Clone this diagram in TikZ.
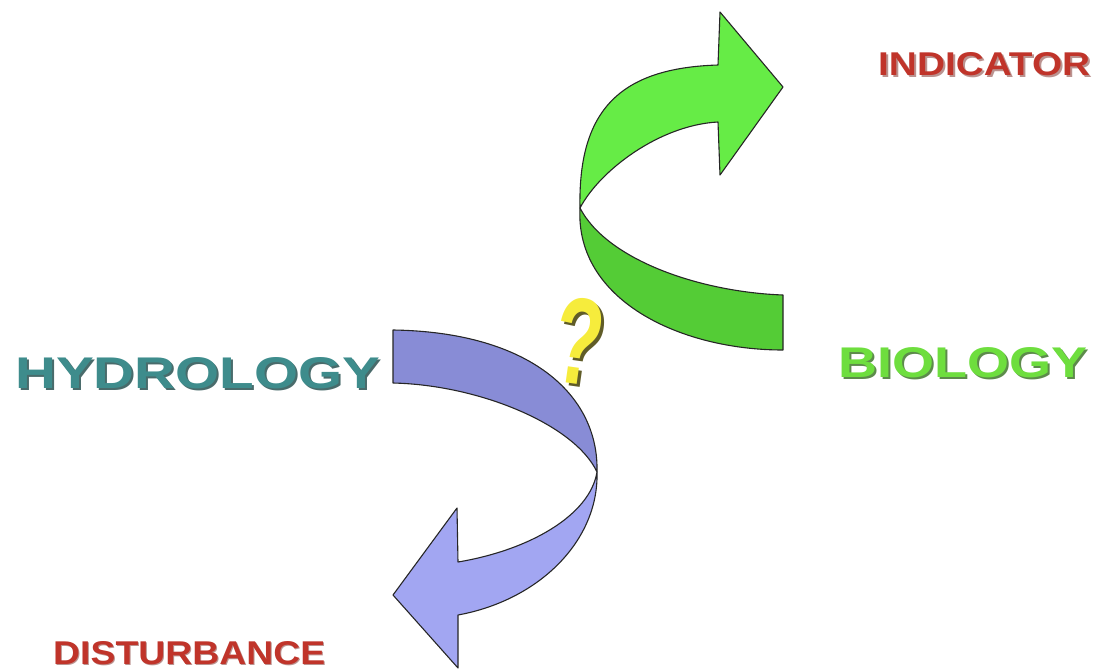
\documentclass[tikz,border=0pt]{standalone}
\usepackage{fontspec}
\setmainfont{Liberation Sans}
\definecolor{gup}{RGB}{102,236,70}
\definecolor{gdown}{RGB}{84,204,54}
\definecolor{bback}{RGB}{136,140,214}
\definecolor{bfront}{RGB}{162,166,242}
\definecolor{teal}{RGB}{62,140,140}
\definecolor{tealdark}{RGB}{28,70,70}
\definecolor{leaf}{RGB}{110,222,62}
\definecolor{leafdark}{RGB}{52,110,30}
\definecolor{brick}{RGB}{192,52,42}
\definecolor{brickdark}{RGB}{120,40,34}
\definecolor{qyellow}{RGB}{246,236,60}
\definecolor{qshadow}{RGB}{96,92,40}
\begin{document}
\begin{tikzpicture}[x=1pt,y=-1pt,
  band/.style={draw=black!85,line width=1.1pt,line join=round},
  word/.style={inner sep=0pt,anchor=base west},
  shade/.style={inner sep=0pt,anchor=base west,opacity=0.8}]
\useasboundingbox (0,0) rectangle (1098,670);

% green arrow: back face (lower) and front face with head (upper)
\path[band,fill=gdown] (580,208) .. controls (607,260) and (700,292) .. (783,295)
  -- (783,350) .. controls (680,350) and (575,300) .. (580,208) -- cycle;
\path[band,fill=gup] (718,65) -- (720,12) -- (783,87) -- (720,175) -- (718,122)
  .. controls (660,125) and (600,170) .. (580,208)
  .. controls (578,110) and (620,68) .. (718,65) -- cycle;

% blue arrow: back face (upper) and front face with head (lower)
\path[band,fill=bback] (393,330) -- (393,383) .. controls (480,385) and (575,425) .. (597,472)
  .. controls (599,395) and (530,332) .. (393,330) -- cycle;
\path[band,fill=bfront] (597,472) .. controls (599,540) and (540,600) .. (458,615)
  -- (458,668) -- (393,595) -- (457,508) -- (458,562)
  .. controls (530,550) and (590,515) .. (597,472) -- cycle;

% question mark with drop shadow
\node[inner sep=0pt,rotate=-8,text=qshadow] (qs) at (582,344) {\resizebox{48pt}{86pt}{\bfseries ?}};
\node[inner sep=0pt,rotate=-8,text=qyellow] (q) at (579,341) {\resizebox{48pt}{86pt}{\bfseries ?}};

% labels with drop shadows
\node[shade,text=tealdark] (hydros) at (17,390) {\resizebox{365pt}{31pt}{\bfseries HYDROLOGY}};
\node[word,text=teal] (hydro) at (15,388) {\resizebox{365pt}{31pt}{\bfseries HYDROLOGY}};

\node[shade,text=leafdark] (bios) at (840,379) {\resizebox{249pt}{30pt}{\bfseries BIOLOGY}};
\node[word,text=leaf] (bio) at (838,377) {\resizebox{249pt}{30pt}{\bfseries BIOLOGY}};

\node[shade,text=brickdark,opacity=0.5] (inds) at (880,77) {\resizebox{212pt}{23pt}{\bfseries INDICATOR}};
\node[word,text=brick] (ind) at (878,75) {\resizebox{212pt}{23pt}{\bfseries INDICATOR}};

\node[shade,text=brickdark,opacity=0.5] (dists) at (54,665) {\resizebox{272pt}{23pt}{\bfseries DISTURBANCE}};
\node[word,text=brick] (dist) at (53,664) {\resizebox{272pt}{23pt}{\bfseries DISTURBANCE}};
\end{tikzpicture}
\end{document}
